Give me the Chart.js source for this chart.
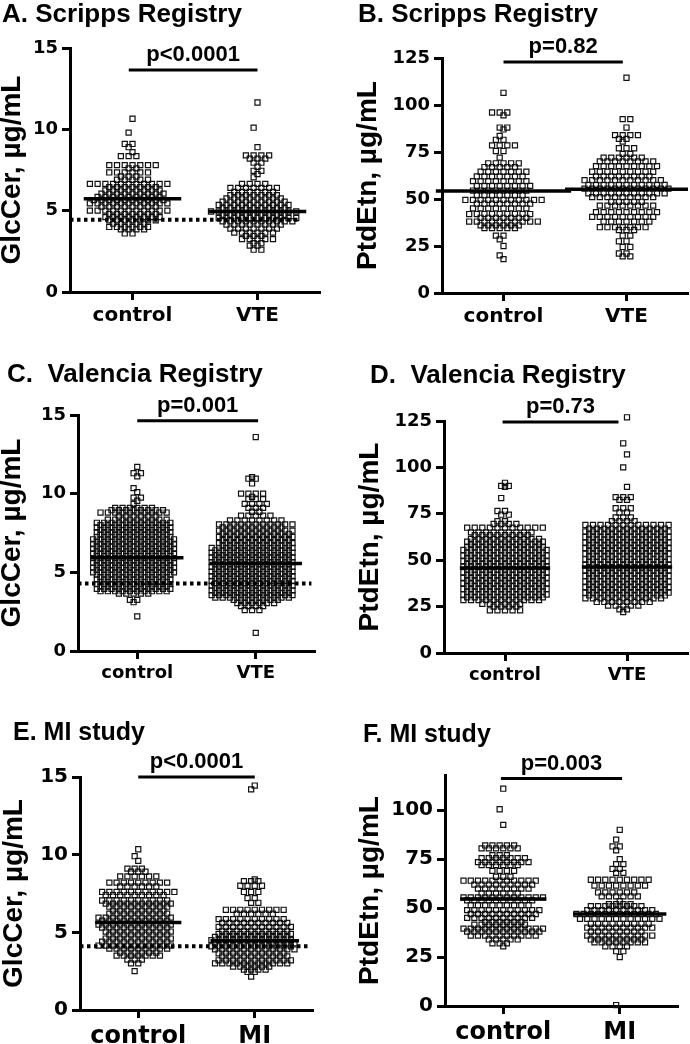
<!DOCTYPE html>
<html>
<head>
<meta charset="utf-8">
<script src="https://cdn.jsdelivr.net/npm/chart.js@4.4.0/dist/chart.umd.min.js"></script>
<style>
  html, body { margin: 0; padding: 0; background: #fff; }
  body { width: 690px; height: 1044px; position: relative; overflow: hidden; }
  canvas { position: absolute; }
</style>
</head>
<body>
<script>
// ---- data (rows of the dot plots: value + number of dots) ----
const catsVTE = ['control', 'VTE'];
const catsMI = ['control', 'MI'];

// A. Scripps, GlcCer
const aCtrlVal = [10.65, 9.8, 9.1, 8.9, 8.6, 8.35, 7.8, 7.6, 7.35, 7.1, 6.9, 6.65, 6.45, 6.25, 6.05, 5.85, 5.65, 5.45, 5.25, 5.0, 4.8, 4.6, 4.4, 4.2, 4.0, 3.85, 3.6];
const aCtrlCnt = [1, 1, 2, 1, 1, 3, 7, 2, 6, 3, 5, 11, 7, 8, 9, 9, 10, 11, 8, 11, 7, 8, 7, 5, 6, 4, 2];
const aVteVal = [11.65, 10.1, 8.9, 8.4, 8.2, 7.95, 7.7, 7.45, 7.25, 7.05, 6.65, 6.4, 6.15, 5.95, 5.75, 5.55, 5.35, 5.15, 4.95, 4.75, 4.55, 4.35, 4.15, 3.9, 3.65, 3.45, 3.25, 3.0, 2.85, 2.6];
const aVteCnt = [1, 1, 1, 4, 3, 2, 1, 2, 1, 1, 4, 7, 6, 7, 8, 9, 10, 9, 12, 9, 11, 10, 8, 7, 6, 3, 5, 2, 2, 2];
const aMeans = [5.74, 4.95];
const aCutoff = 4.44;

// B. Scripps, PtdEtn
const bCtrlVal = [106.5, 96, 94.5, 88, 87, 83.5, 81.5, 78.5, 75.5, 72, 69, 67, 64.5, 62, 59.5, 57, 54.5, 52, 49.5, 47.5, 45, 42, 40, 38, 36, 34.5, 30.5, 28.5, 25, 20, 18];
const bCtrlCnt = [1, 3, 1, 2, 1, 1, 2, 4, 2, 1, 5, 5, 7, 7, 8, 8, 8, 7, 11, 8, 8, 9, 7, 10, 6, 5, 2, 1, 1, 1, 1];
const bVteVal = [114.5, 92.5, 88, 84, 82, 80.5, 77, 74, 72, 70, 67.5, 64.5, 62, 60, 57.5, 55.5, 53, 51, 48.5, 46.5, 43, 40.5, 38, 35, 33.5, 30.5, 27.5, 24.5, 21, 19.5];
const bVteCnt = [1, 2, 1, 4, 2, 1, 3, 2, 6, 8, 9, 9, 8, 11, 11, 12, 11, 9, 5, 8, 9, 9, 7, 7, 3, 2, 2, 2, 2, 2];
const bMeans = [54.2, 55.2];

// C. Valencia, GlcCer
const cCtrlVal = [11.7, 11.3, 11.1, 10.35, 10.1, 9.75, 9.55, 9.35, 9.1, 8.95, 8.8, 8.55, 8.35, 8.15, 8.0, 7.85, 7.7, 7.55, 7.4, 7.25, 7.1, 6.95, 6.8, 6.65, 6.5, 6.35, 6.2, 6.05, 5.9, 5.75, 5.6, 5.45, 5.3, 5.15, 5.0, 4.85, 4.7, 4.55, 4.4, 4.25, 4.1, 3.95, 3.8, 3.65, 3.25, 3.1, 2.2];
const cCtrlCnt = [1, 2, 1, 1, 1, 2, 1, 1, 6, 8, 10, 6, 9, 11, 10, 11, 10, 11, 10, 11, 12, 11, 12, 11, 12, 11, 12, 11, 12, 11, 12, 11, 12, 11, 12, 11, 10, 11, 10, 11, 10, 11, 10, 5, 2, 1, 1];
const cVteVal = [13.6, 11.05, 10.95, 10.65, 10.0, 9.8, 9.65, 9.35, 9.1, 8.85, 8.6, 8.3, 8.05, 7.85, 7.65, 7.45, 7.25, 7.05, 6.85, 6.7, 6.55, 6.4, 6.25, 6.1, 5.95, 5.8, 5.65, 5.5, 5.35, 5.2, 5.05, 4.9, 4.75, 4.6, 4.45, 4.3, 4.15, 4.0, 3.85, 3.7, 3.55, 3.4, 3.25, 3.05, 2.85, 2.6, 1.15];
const cVteCnt = [1, 1, 2, 1, 4, 1, 3, 4, 3, 2, 5, 8, 11, 9, 11, 10, 11, 10, 11, 10, 12, 11, 12, 11, 12, 11, 12, 11, 12, 11, 12, 11, 12, 11, 12, 11, 12, 11, 12, 11, 12, 11, 7, 6, 4, 3, 1];
const cMeans = [5.92, 5.56];
const cCutoff = 4.29;

// D. Valencia, PtdEtn
const dCtrlVal = [91.7, 90, 89.5, 83.5, 76.5, 74.5, 71, 69.5, 67.5, 65, 63.5, 61.5, 60, 58.5, 57, 55.5, 54, 52.5, 51, 49.5, 48, 46.5, 45, 43.5, 42, 40.5, 39, 37.5, 36, 34.5, 33, 31.5, 30, 28.5, 26.5, 25, 23];
const dCtrlCnt = [1, 2, 1, 1, 2, 2, 2, 4, 11, 9, 8, 10, 11, 10, 11, 12, 11, 12, 11, 12, 11, 12, 11, 12, 11, 12, 11, 12, 11, 12, 11, 12, 11, 11, 6, 4, 5];
const dVteVal = [127, 113, 107, 100, 89.5, 84, 82.5, 78, 75.7, 73, 71, 69, 67, 65.5, 64, 62.5, 61, 59.5, 58, 56.5, 55, 53.5, 52, 50.5, 49, 47.5, 46, 44.5, 43, 41.5, 40, 38.5, 37, 35.5, 34, 32.5, 31, 29.5, 27.5, 25.5, 23.5, 22];
const dVteCnt = [1, 1, 1, 1, 1, 3, 2, 3, 2, 3, 4, 12, 11, 12, 11, 12, 11, 12, 11, 12, 11, 12, 11, 12, 11, 12, 11, 12, 11, 12, 11, 12, 11, 12, 11, 12, 11, 11, 8, 5, 2, 1];
const dMeans = [45.8, 46.3];

// E. MI study, GlcCer
const eCtrlVal = [10.35, 9.9, 9.6, 9.1, 8.9, 8.6, 8.2, 7.95, 7.6, 7.4, 7.05, 6.85, 6.65, 6.4, 6.2, 5.95, 5.75, 5.5, 5.3, 5.05, 4.85, 4.6, 4.4, 4.15, 3.95, 3.7, 3.5, 3.25, 3.0, 2.5];
const eCtrlCnt = [1, 1, 1, 3, 3, 6, 9, 6, 11, 9, 10, 10, 9, 8, 9, 11, 10, 11, 10, 10, 9, 10, 10, 11, 9, 6, 7, 3, 2, 1];
const eMiVal = [14.45, 14.2, 8.4, 8.3, 8.0, 7.6, 7.2, 6.9, 6.45, 6.2, 5.85, 5.6, 5.35, 5.1, 4.9, 4.7, 4.5, 4.3, 4.1, 3.9, 3.65, 3.45, 3.2, 3.0, 2.8, 2.6, 2.45, 2.15];
const eMiCnt = [1, 1, 1, 3, 4, 3, 2, 2, 9, 6, 10, 10, 11, 10, 11, 11, 12, 12, 12, 12, 10, 10, 11, 11, 6, 4, 2, 1];
const eMeans = [5.64, 4.46];
const eCutoff = 4.11;

// F. MI study, PtdEtn
const fCtrlVal = [111, 100.5, 92.5, 82, 80.5, 77, 75.5, 73.5, 72, 69, 66, 64, 62, 60, 57.5, 55.5, 54, 51.5, 49, 47, 45, 43, 41.5, 39.5, 38, 36, 34, 32, 30.5];
const fCtrlCnt = [1, 1, 1, 5, 6, 3, 7, 8, 6, 4, 3, 11, 9, 8, 6, 12, 10, 9, 11, 10, 10, 6, 8, 12, 11, 10, 5, 3, 1];
const fMiVal = [90, 85, 81.5, 79.5, 75, 72.5, 70, 68, 64.5, 61.5, 58, 56, 53.5, 52, 51, 49, 47, 44.5, 42, 40, 38, 36, 34, 32.5, 30.5, 28, 25, 0.5];
const fMiCnt = [1, 1, 2, 1, 1, 2, 2, 2, 9, 8, 6, 6, 1, 4, 8, 10, 12, 12, 9, 10, 8, 10, 8, 8, 4, 2, 1, 1];
const fMeans = [54.6, 47.0];

// axis ticks
const glcTicks = [0, 5, 10, 15];
const ptdTicks = [0, 25, 50, 75, 100, 125];
const ptdTicksF = [0, 25, 50, 75, 100];

const pLabels = ['p<0.0001', 'p=0.82', 'p=0.001', 'p=0.73', 'p<0.0001', 'p=0.003'];

// ---- layout of the six panels (page pixels) ----
const STEP = 0.062; // horizontal spacing of dots, x units
const panels = [
  { title: 'A. Scripps Registry', tx: 2, ty: 22, tsize: 26, yTitle: 'GlcCer, µg/mL', cats: catsVTE,
    ctrl: [aCtrlVal, aCtrlCnt], grp: [aVteVal, aVteCnt], means: aMeans, cutoff: aCutoff, cutEnd: 2.34,
    yMax: 15, yTicks: glcTicks, p: pLabels[0], bracketY: 13.64, bracketX: [0.97, 2.0], meanHalf: [0.39, 0.39],
    cx: -2, cy: 0, cb: 330, L: 70, T: 48, R: 320, B: 292, tick: 18, xlab: 20 },
  { title: 'B. Scripps Registry', tx: 358, ty: 22, tsize: 26, yTitle: 'PtdEtn, µg/mL', cats: catsVTE,
    ctrl: [bCtrlVal, bCtrlCnt], grp: [bVteVal, bVteCnt], means: bMeans,
    yMax: 125, yTicks: ptdTicks, p: pLabels[1], bracketY: 122.9, bracketX: [1.0, 1.97], meanHalf: [0.55, 0.5],
    cx: 354, cy: 0, cb: 330, L: 442, T: 58, R: 688, B: 293, tick: 18, xlab: 20 },
  { title: 'C.  Valencia Registry', tx: 7, ty: 382, tsize: 26, yTitle: 'GlcCer, µg/mL', cats: catsVTE,
    ctrl: [cCtrlVal, cCtrlCnt], grp: [cVteVal, cVteCnt], means: cMeans, cutoff: cCutoff, cutEnd: 2.47,
    yMax: 15, yTicks: glcTicks, p: pLabels[2], bracketY: 14.64, bracketX: [1.0, 2.02], meanHalf: [0.39, 0.39],
    cx: -2, cy: 335, cb: 690, L: 78, T: 415, R: 315, B: 651, tick: 18, xlab: 18 },
  { title: 'D.  Valencia Registry', tx: 370, ty: 383, tsize: 26, yTitle: 'PtdEtn, µg/mL', cats: catsVTE,
    ctrl: [dCtrlVal, dCtrlCnt], grp: [dVteVal, dVteCnt], means: dMeans,
    yMax: 125, yTicks: ptdTicks, p: pLabels[3], bracketY: 124.5, bracketX: [0.98, 1.93], meanHalf: [0.37, 0.37],
    cx: 356, cy: 335, cb: 690, L: 444, T: 421, R: 688, B: 653, tick: 18, xlab: 18 },
  { title: 'E. MI study', tx: 13, ty: 740, tsize: 25, yTitle: 'GlcCer, µg/mL', cats: catsMI,
    ctrl: [eCtrlVal, eCtrlCnt], grp: [eMiVal, eMiCnt], means: eMeans, cutoff: eCutoff, cutEnd: 2.47,
    yMax: 15, yTicks: glcTicks, p: pLabels[4], bracketY: 15, bracketX: [1.0, 2.0], meanHalf: [0.37, 0.38],
    cx: 0, cy: 700, cb: 1044, L: 80, T: 777, R: 313, B: 1010, tick: 20, xlab: 24 },
  { title: 'F. MI study', tx: 363, ty: 742, tsize: 25, yTitle: 'PtdEtn, µg/mL', cats: catsMI,
    ctrl: [fCtrlVal, fCtrlCnt], grp: [fMiVal, fMiCnt], means: fMeans,
    yMax: 118, yTicks: ptdTicksF, p: pLabels[5], bracketY: 116.2, bracketX: [0.98, 2.02], meanHalf: [0.37, 0.4],
    cx: 356, cy: 700, cb: 1044, L: 445, T: 775, R: 678, B: 1006, tick: 20, xlab: 24 }
];

// spread each row sideways around the category centre; odd rows sit on a
// half-step grid so neighbouring rows interleave like a scatter dot plot
function swarm(cat, vals, cnts) {
  const pts = [];
  vals.forEach((v, r) => {
    const n = cnts[r];
    const half = r % 2 ? 0.5 : 0;
    const slots = [];
    for (let k = 0; slots.length < n; k++) {
      if (half) {
        slots.push(-(k + 0.5));
        if (slots.length < n) slots.push(k + 0.5);
      } else if (k === 0) {
        slots.push(0);
      } else {
        slots.push(-k);
        if (slots.length < n) slots.push(k);
      }
    }
    slots.forEach(s => pts.push({ x: cat + s * STEP, y: v }));
  });
  return pts;
}

// panel title, significance bar and p value
const annotate = {
  id: 'annotate',
  afterDatasetsDraw(chart, args, o) {
    const ctx = chart.ctx;
    const xs = chart.scales.x, ys = chart.scales.y;
    ctx.save();
    ctx.fillStyle = '#000';
    ctx.textBaseline = 'alphabetic';
    ctx.textAlign = 'left';
    ctx.font = 'bold ' + o.tsize + 'px "Liberation Sans", Arial, sans-serif';
    ctx.fillText(o.title, o.tx, o.ty);

    const yb = ys.getPixelForValue(o.bracketY);
    const x1 = xs.getPixelForValue(o.bracketX[0]);
    const x2 = xs.getPixelForValue(o.bracketX[1]);
    ctx.strokeStyle = '#000';
    ctx.lineWidth = 3;
    ctx.beginPath();
    ctx.moveTo(x1, yb);
    ctx.lineTo(x2, yb);
    ctx.stroke();

    ctx.textAlign = 'center';
    ctx.font = 'bold 22px "Liberation Sans", Arial, sans-serif';
    ctx.fillText(o.p, (x1 + x2) / 2, yb - 9);
    ctx.restore();
  }
};

function lineSet(x0, x1, y, dash) {
  return {
    data: [{ x: x0, y: y }, { x: x1, y: y }],
    showLine: true,
    pointRadius: 0,
    borderColor: '#000',
    borderWidth: dash ? 4 : 3.5,
    borderDash: dash ? [3.5, 3.5] : [],
    clip: false
  };
}

function dotSet(pts) {
  return {
    data: pts,
    pointStyle: 'rect',
    pointRadius: 3.6,
    pointBorderWidth: 1.2,
    borderColor: '#111',
    backgroundColor: 'rgba(255,255,255,0)',
    clip: false
  };
}

panels.forEach(p => {
  const right = Math.min(690, p.R + 3);
  const canvas = document.createElement('canvas');
  canvas.width = right - p.cx;
  canvas.height = p.cb - p.cy;
  canvas.style.left = p.cx + 'px';
  canvas.style.top = p.cy + 'px';
  document.body.appendChild(canvas);

  const datasets = [];
  datasets.push(lineSet(1 - p.meanHalf[0], 1 + p.meanHalf[0], p.means[0], false));
  datasets.push(lineSet(2 - p.meanHalf[1], 2 + p.meanHalf[1], p.means[1], false));
  if (p.cutoff !== undefined) datasets.push(lineSet(0.5, p.cutEnd, p.cutoff, true));
  datasets.push(dotSet(swarm(1, p.ctrl[0], p.ctrl[1])));
  datasets.push(dotSet(swarm(2, p.grp[0], p.grp[1])));

  new Chart(canvas.getContext('2d'), {
    type: 'scatter',
    data: { datasets: datasets },
    options: {
      responsive: false,
      animation: false,
      devicePixelRatio: 1,
      layout: {
        autoPadding: false,
        padding: { top: p.T - p.cy, right: right - p.R, left: 0, bottom: 0 }
      },
      plugins: {
        legend: { display: false },
        tooltip: { enabled: false },
        annotate: {
          title: p.title, tx: p.tx - p.cx, ty: p.ty - p.cy, tsize: p.tsize,
          p: p.p, bracketY: p.bracketY, bracketX: p.bracketX
        }
      },
      scales: {
        x: {
          type: 'linear',
          position: 'bottom',
          min: 0.5,
          max: 2.5,
          afterBuildTicks: s => { s.ticks = [{ value: 1 }, { value: 2 }]; },
          afterFit: s => { s.height = p.cb - p.B; },
          border: { display: true, color: '#000', width: 3 },
          grid: { drawOnChartArea: false, drawTicks: true, tickLength: 8, tickWidth: 3, tickColor: '#000', color: '#000' },
          ticks: {
            autoSkip: false,
            maxRotation: 0,
            padding: 4,
            color: '#000',
            font: { family: '"DejaVu Sans"', weight: 'bold', size: p.xlab },
            callback: (v, i) => p.cats[i]
          }
        },
        y: {
          type: 'linear',
          min: 0,
          max: p.yMax,
          afterBuildTicks: s => { s.ticks = p.yTicks.map(v => ({ value: v })); },
          afterFit: s => { s.width = p.L - p.cx; },
          border: { display: true, color: '#000', width: 3 },
          grid: { drawOnChartArea: false, drawTicks: true, tickLength: 8, tickWidth: 3, tickColor: '#000', color: '#000' },
          ticks: {
            padding: 4,
            color: '#000',
            font: { family: '"DejaVu Sans"', weight: 'bold', size: p.tick }
          },
          title: {
            display: true,
            text: p.yTitle,
            color: '#000',
            padding: 0,
            font: { family: '"Liberation Sans", Arial, sans-serif', weight: 'bold', size: 28, lineHeight: 1 }
          }
        }
      }
    },
    plugins: [annotate]
  });
});
</script>
</body>
</html>
